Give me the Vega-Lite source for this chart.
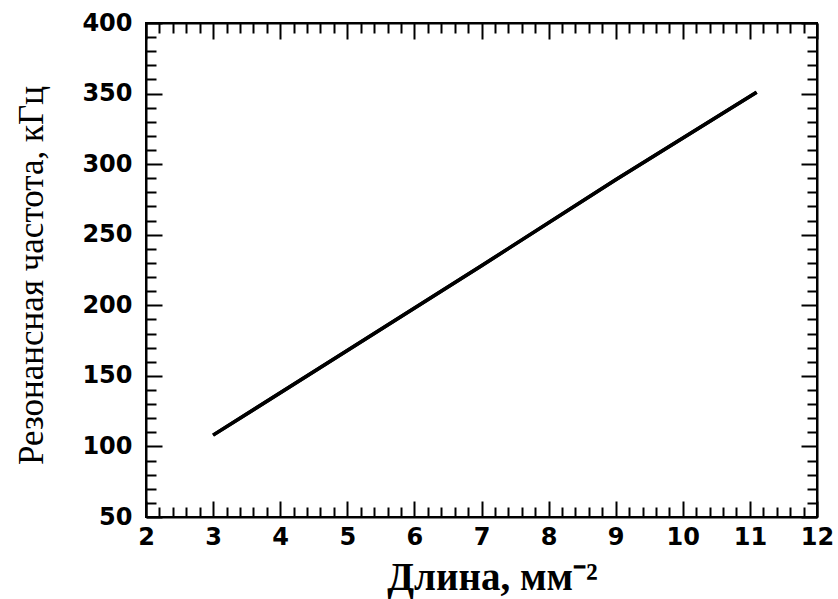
{
  "$schema": "https://vega.github.io/schema/vega-lite/v6.json",
  "width": 671,
  "height": 494,
  "autosize": {"type": "none"},
  "padding": {"left": 146, "top": 23, "right": 21, "bottom": 82},
  "background": "white",
  "config": {
    "view": {"stroke": "black", "strokeWidth": 2},
    "axis": {
      "domainColor": "black",
      "domainWidth": 2,
      "tickColor": "black",
      "tickWidth": 2,
      "grid": false,
      "labelFont": "DejaVu Sans",
      "labelFontSize": 24,
      "labelFontWeight": "bold",
      "labelColor": "black",
      "labelOverlap": false,
      "labelFlush": false,
      "titleColor": "black"
    }
  },
  "data": {
    "values": [
      {"length": 3.0, "freq": 108},
      {"length": 5.0, "freq": 168},
      {"length": 7.0, "freq": 228},
      {"length": 9.0, "freq": 289},
      {"length": 11.1, "freq": 351}
    ]
  },
  "resolve": {"axis": {"x": "independent", "y": "independent"}},
  "layer": [
    {
      "mark": {"type": "line", "color": "black", "strokeWidth": 3.5},
      "encoding": {
        "x": {
          "field": "length", "type": "quantitative",
          "scale": {"domain": [2, 12], "nice": false, "zero": false},
          "axis": {
            "orient": "bottom",
            "values": [2,2.2,2.4,2.6,2.8,3,3.2,3.4,3.6,3.8,4,4.2,4.4,4.6,4.8,5,5.2,5.4,5.6,5.8,6,6.2,6.4,6.6,6.8,7,7.2,7.4,7.6,7.8,8,8.2,8.4,8.6,8.8,9,9.2,9.4,9.6,9.8,10,10.2,10.4,10.6,10.8,11,11.2,11.4,11.6,11.8,12],
            "labelExpr": "abs(datum.value - round(datum.value)) < 0.001 ? format(datum.value, 'd') : ''",
            "tickSize": {"condition": {"test": "abs(datum.value - round(datum.value)) < 0.001", "value": -16}, "value": -10},
            "labelPadding": 24,
            "title": "Длина, мм⁻²",
            "titleFont": "Liberation Serif",
            "titleFontSize": 39,
            "titleFontWeight": "bold",
            "titleX": 346,
            "titleY": 72,
            "titleBaseline": "alphabetic"
          }
        },
        "y": {
          "field": "freq", "type": "quantitative",
          "scale": {"domain": [50, 400], "nice": false, "zero": false},
          "axis": {
            "orient": "left",
            "values": [50,60,70,80,90,100,110,120,130,140,150,160,170,180,190,200,210,220,230,240,250,260,270,280,290,300,310,320,330,340,350,360,370,380,390,400],
            "labelExpr": "datum.value % 50 === 0 ? format(datum.value, 'd') : ''",
            "tickSize": {"condition": {"test": "datum.value % 50 === 0", "value": -16}, "value": -10},
            "labelPadding": 30,
            "title": "Резонансная частота, кГц",
            "titleFont": "Liberation Serif",
            "titleFontSize": 35,
            "titleFontWeight": "normal",
            "titleAngle": -90,
            "titleX": -115,
            "titleY": 252,
            "titleAlign": "center",
            "titleBaseline": "middle"
          }
        }
      }
    },
    {
      "mark": {"type": "line", "color": "black", "strokeWidth": 3.5},
      "encoding": {
        "x": {
          "field": "length", "type": "quantitative",
          "scale": {"domain": [2, 12], "nice": false, "zero": false},
          "axis": {
            "orient": "top",
            "values": [2,2.2,2.4,2.6,2.8,3,3.2,3.4,3.6,3.8,4,4.2,4.4,4.6,4.8,5,5.2,5.4,5.6,5.8,6,6.2,6.4,6.6,6.8,7,7.2,7.4,7.6,7.8,8,8.2,8.4,8.6,8.8,9,9.2,9.4,9.6,9.8,10,10.2,10.4,10.6,10.8,11,11.2,11.4,11.6,11.8,12],
            "labels": false,
            "tickSize": {"condition": {"test": "abs(datum.value - round(datum.value)) < 0.001", "value": -16}, "value": -10},
            "title": null
          }
        },
        "y": {
          "field": "freq", "type": "quantitative",
          "scale": {"domain": [50, 400], "nice": false, "zero": false},
          "axis": {
            "orient": "right",
            "values": [50,60,70,80,90,100,110,120,130,140,150,160,170,180,190,200,210,220,230,240,250,260,270,280,290,300,310,320,330,340,350,360,370,380,390,400],
            "labels": false,
            "tickSize": {"condition": {"test": "datum.value % 50 === 0", "value": -16}, "value": -10},
            "title": null
          }
        }
      }
    }
  ]
}
